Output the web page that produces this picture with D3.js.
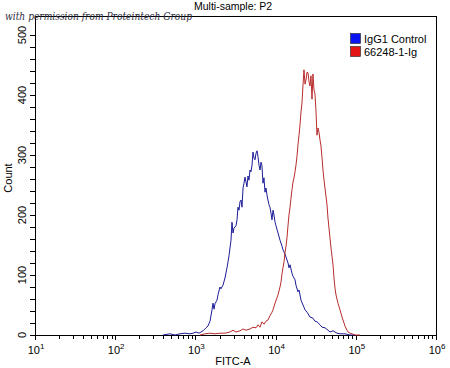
<!DOCTYPE html>
<html><head><meta charset="utf-8">
<script src="https://cdn.jsdelivr.net/npm/d3@7"></script>
<style>html,body{margin:0;padding:0;background:#fff;}svg{display:block;}</style>
</head><body>
<script>
// FITC-A bin positions and counts
const igg1Fitc = [394,482,557,643,741,857,933,1018,1109,1245,1356,1436,1521,1611,1656,1706,1754,1858,1914,2028,2084,2208,2339,2477,2553,2624,2698,2780,2858,2944,3027,3206,3304,3396,3499,3597,3707,3811,3926,4036,4150,4276,4395,4529,4656,4797,4932,5082,5224,5383,5534,5702,5861,6039,6209,6397,6577,6761,6966,7161,7379,7586,7816,8035,8279,8511,8770,9016,9290,9550,9840,10120,10720,11350,12020,12360,13090,13870,14290,14690,15140,16000,16480,17460,17950,19010,19590,20750,21980,23280,24660,26850,29240,30970,32810,35810,37930,41300,44980,47640,52000,58340,63530,73280,84720,97720];
const igg1Count = [0,2,0,2,3,2,3,5,3,7,12,15,23,42,53,43,52,58,67,80,77,83,95,112,122,132,145,158,188,170,178,182,192,213,208,222,225,213,245,253,263,255,247,265,258,275,272,283,305,295,292,303,307,297,283,275,288,282,253,262,238,245,233,225,217,213,203,192,208,200,188,182,170,158,148,142,135,125,120,112,117,103,98,92,83,72,75,58,50,42,38,30,28,23,22,17,13,12,8,5,7,3,2,2,0,0];
const abFitc = [1141,1318,1521,1754,2028,2339,2698,2944,3206,3597,3926,4276,4797,5224,5702,6039,6397,6761,7161,7586,8035,8511,9016,9290,9840,10400,10720,11350,11670,12020,12360,12740,13090,13490,13870,14290,14690,15140,15560,16000,16480,16940,17460,17950,18490,19010,19590,20140,20750,21330,21980,22590,23280,23930,24660,25350,26120,26850,27610,28440,29240,30130,30970,31920,32810,33810,34750,35810,36810,37930,38990,40180,41300,43750,44980,47640,49090,52000,53460,55080,56620,59980,63530,67300,71290,73280,77620,79980,84720,89740,97720,112700];
const abCount = [0,2,3,2,3,3,5,8,5,7,10,8,10,13,12,17,13,22,18,23,25,32,38,42,53,62,67,80,88,102,112,122,137,148,162,183,200,213,228,242,255,262,272,283,298,317,333,350,372,387,417,442,418,425,438,437,422,415,432,393,435,408,402,372,333,345,338,325,315,295,275,258,245,217,195,162,145,117,95,78,67,53,42,30,20,15,8,5,3,2,0,0];

const seriesNames = ["IgG1 Control", "66248-1-Ig"];
const seriesColors = ["#1c1c96", "#b82c2c"];
const legendColors = ["#0a14f0", "#e41414"];
const yTicks = [0,100,200,300,400,500];
const xDecades = [1,2,3,4,5,6];
const titleText = "Multi-sample: P2";
const xLabel = "FITC-A";
const yLabel = "Count";
const watermark = "with permission from Proteintech Group";

const W = 450, H = 368;
const svg = d3.select("body").append("svg").attr("width", W).attr("height", H);
const font = "'Liberation Sans', Arial, sans-serif";

const x = d3.scaleLog().domain([10, 1e6]).range([35, 436]);
const y = d3.scaleLinear().domain([0, 500]).range([335, 35]);
const yTop = y(531.7);

// axis ticks
const xMinor = [];
xDecades.slice(0, -1).forEach(d => { for (let k = 2; k <= 9; k++) xMinor.push(k * Math.pow(10, d)); });
const g = svg.append("g").attr("stroke", "#000").attr("stroke-width", 1).attr("shape-rendering", "crispEdges");
g.selectAll(".xmin").data(xMinor).join("line")
  .attr("x1", d => Math.round(x(d)) + 0.5).attr("x2", d => Math.round(x(d)) + 0.5)
  .attr("y1", 335).attr("y2", 339);
g.selectAll(".xmaj").data(xDecades).join("line")
  .attr("x1", d => Math.round(x(Math.pow(10, d))) + 0.5).attr("x2", d => Math.round(x(Math.pow(10, d))) + 0.5)
  .attr("y1", 335).attr("y2", 340);
const yMinor = d3.range(0, 520, 20);
g.selectAll(".ymin").data(yMinor).join("line")
  .attr("x1", 30).attr("x2", 35)
  .attr("y1", d => Math.round(y(d)) + 0.5).attr("y2", d => Math.round(y(d)) + 0.5);

// frame
svg.append("rect").attr("x", 35.5).attr("y", Math.round(yTop) + 0.5)
  .attr("width", Math.round(x(1e6)) - 35).attr("height", 335 - Math.round(yTop))
  .attr("fill", "none").attr("stroke", "#000").attr("stroke-width", 1).attr("shape-rendering", "crispEdges");

// x tick labels
const xl = svg.selectAll(".xl").data(xDecades).join("text")
  .attr("x", d => x(Math.pow(10, d)) + 1).attr("y", 354)
  .attr("text-anchor", "middle").attr("font-family", font).attr("font-size", 11).attr("fill", "#000");
xl.append("tspan").text("10");
xl.append("tspan").attr("dy", -5).attr("font-size", 8).text(d => d);

// y tick labels (rotated)
svg.selectAll(".yl").data(yTicks).join("text")
  .attr("transform", d => `translate(26,${y(d)}) rotate(-90)`)
  .attr("text-anchor", "middle").attr("font-family", font).attr("font-size", 11).attr("fill", "#000")
  .text(d => d);

// axis titles
svg.append("text").attr("x", 233).attr("y", 365).attr("text-anchor", "middle")
  .attr("font-family", font).attr("font-size", 11).text(xLabel);
svg.append("text").attr("transform", "translate(12,178) rotate(-90)").attr("text-anchor", "middle")
  .attr("font-family", font).attr("font-size", 11).text(yLabel);
svg.append("text").attr("x", 194).attr("y", 10).attr("text-anchor", "start")
  .attr("font-family", font).attr("font-size", 10.5).text(titleText);

// histograms
const line = d3.line().x(d => x(d[0])).y(d => y(d[1]));
const series = [d3.zip(igg1Fitc, igg1Count), d3.zip(abFitc, abCount)];
svg.selectAll(".hist").data(series).join("path")
  .attr("d", line).attr("fill", "none")
  .attr("stroke", (d, i) => seriesColors[i]).attr("stroke-width", 1);

// legend
const lg = svg.selectAll(".lg").data(seriesNames).join("g")
  .attr("transform", (d, i) => `translate(350,${33 + i * 13})`);
lg.append("rect").attr("x", 0.5).attr("y", 0.5).attr("width", 10).attr("height", 10)
  .attr("fill", (d, i) => legendColors[i]).attr("stroke", "#222").attr("stroke-width", 0.6);
lg.append("text").attr("x", 14).attr("y", 10).attr("font-family", font).attr("font-size", 11)
  .attr("fill", "#000").text(d => d);

// watermark
svg.append("text").attr("x", 5).attr("y", 20).attr("textLength", 187).attr("lengthAdjust", "spacingAndGlyphs")
  .attr("font-family", "'DejaVu Serif', serif").attr("font-style", "italic").attr("font-size", 11)
  .attr("fill", "#2e2e40").text(watermark);
</script>
</body></html>
